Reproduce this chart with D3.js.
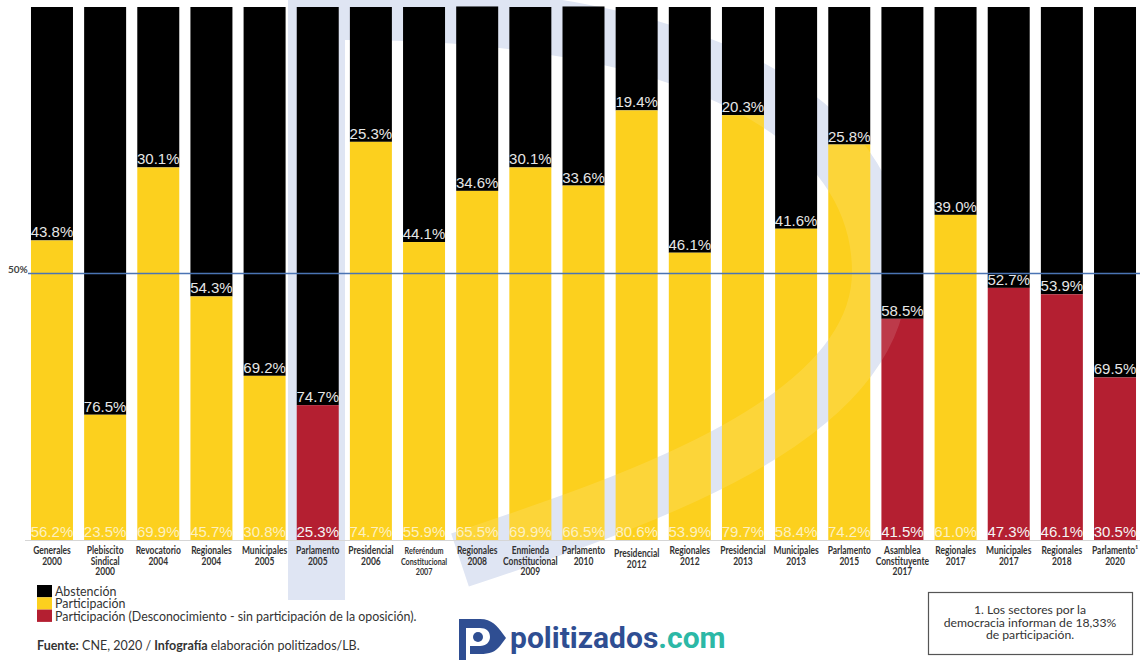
<!DOCTYPE html>
<html><head><meta charset="utf-8">
<script src="https://cdn.jsdelivr.net/npm/d3@7"></script>
<style>body{margin:0;background:#fff}svg{display:block}</style>
</head><body><svg id="c" width="1140" height="660"></svg>
<script>
const categories = [
  ["Generales","2000"],["Plebiscito","Sindical","2000"],["Revocatorio","2004"],["Regionales","2004"],
  ["Municipales","2005"],["Parlamento","2005"],["Presidencial","2006"],["Referéndum","Constitucional","2007"],
  ["Regionales","2008"],["Enmienda","Constitucional","2009"],["Parlamento","2010"],["Presidencial","2012"],
  ["Regionales","2012"],["Presidencial","2013"],["Municipales","2013"],["Parlamento","2015"],
  ["Asamblea","Constituyente","2017"],["Regionales","2017"],["Municipales","2017"],["Regionales","2018"],["Parlamento¹","2020"]
];
const participacion = [56.2,23.5,69.9,45.7,30.8,25.3,74.7,55.9,65.5,69.9,66.5,80.6,53.9,79.7,58.4,74.2,41.5,61.0,47.3,46.1,30.5];
const abstencion   = [43.8,76.5,30.1,54.3,69.2,74.7,25.3,44.1,34.6,30.1,33.6,19.4,46.1,20.3,41.6,25.8,58.5,39.0,52.7,53.9,69.5];
const desconocimiento = [false,false,false,false,false,true,false,false,false,false,false,false,false,false,false,false,true,false,true,true,true];
const referenceLine = 50;
const legendItems = ["Abstención","Participación","Participación (Desconocimiento - sin participación de la oposición)."];
const noteLines = ["1. Los sectores por la","democracia informan de 18,33%","de participación."];

const C = {black:"#000000", yellow:"#FCD01E", red:"#B41F31", blue:"#4a74b4"};
const svg = d3.select("#c");
const ids = categories.map((d,i)=>i);
const x = d3.scaleBand().domain(ids).range([25.4,1141.6]).paddingInner(0.21).paddingOuter(0.105);
const y = d3.scaleLinear().domain([0,100]).range([540,7]);
const curve = "M345 12 C700 12, 880 120, 880 272 C880 420, 640 500, 460 560";

// watermark behind
const wm = svg.append("g");
wm.append("rect").attr("x",288).attr("y",0).attr("width",57).attr("height",600).attr("fill","#dfe5f3");
wm.append("path").attr("d",curve).attr("fill","none").attr("stroke","#dfe5f3").attr("stroke-width",56);

// bars
const defs = svg.append("defs");
const clip = defs.append("clipPath").attr("id","partClip");
const g = svg.append("g");
ids.forEach(i=>{
  const bx = x(i), bw = x.bandwidth();
  const total = participacion[i]+abstencion[i];
  g.append("rect").attr("x",bx).attr("width",bw).attr("y",y(total)).attr("height",y(participacion[i])-y(total)).attr("fill",C.black);
  g.append("rect").attr("x",bx).attr("width",bw).attr("y",y(participacion[i])).attr("height",y(0)-y(participacion[i]))
    .attr("fill",desconocimiento[i]?C.red:C.yellow);
  clip.append("rect").attr("x",bx).attr("width",bw).attr("y",y(participacion[i])).attr("height",y(0)-y(participacion[i]));
});

// watermark overlay on participation bars
svg.append("path").attr("d",curve).attr("clip-path","url(#partClip)")
  .attr("fill","none").attr("stroke","#ffffff").attr("stroke-opacity",0.12).attr("stroke-width",56);

// baseline
svg.append("line").attr("x1",25).attr("x2",1140).attr("y1",y(0)+0.5).attr("y2",y(0)+0.5).attr("stroke","#d6d6d6");

// value labels
const lab = svg.append("g").attr("font-family","'Liberation Sans', Arial, sans-serif").attr("font-size",15).attr("text-anchor","middle");
ids.forEach(i=>{
  const cx = x(i)+x.bandwidth()/2;
  lab.append("text").attr("x",cx).attr("y",y(participacion[i])-3).attr("fill","#e6e6e6").text(abstencion[i].toFixed(1)+"%");
  lab.append("text").attr("x",cx).attr("y",y(0)-3).attr("fill",desconocimiento[i]?"#f4f4f4":"#fdf0c0").text(participacion[i].toFixed(1)+"%");
});

// 50% line
svg.append("line").attr("x1",28).attr("x2",1140).attr("y1",y(referenceLine)).attr("y2",y(referenceLine)).attr("stroke",C.blue).attr("stroke-width",1.3);
svg.append("text").attr("x",8).attr("y",y(referenceLine)-1).attr("font-family","Lato, sans-serif").attr("font-weight",700)
  .attr("font-size",10).attr("fill","#444").text(referenceLine+"%");

// x axis labels
const xl = svg.append("g").attr("font-family","Lato, sans-serif").attr("font-weight",700).attr("fill","#333").attr("text-anchor","middle");
ids.forEach(i=>{
  const cx = x(i)+x.bandwidth()/2;
  const small = categories[i][0]==="Referéndum";
  const off = categories[i][0]==="Presidencial" && categories[i][1]==="2012" ? 3 : 0;
  categories[i].forEach((t,k)=>{
    xl.append("text").attr("transform",`translate(${cx},${554+off+k*10.5}) scale(0.8,1)`)
      .attr("font-size",small?9:10.6).text(t);
  });
});

// legend
const lg = svg.append("g").attr("font-family","Lato, sans-serif").attr("font-size",12.4).attr("fill","#333");
[C.black,C.yellow,C.red].forEach((c,k)=>{
  lg.append("rect").attr("x",37).attr("y",585+k*12.3).attr("width",15).attr("height",12.3).attr("fill",c);
  lg.append("text").attr("x",55).attr("y",596+k*12.3).text(legendItems[k]);
});
const f = svg.append("text").attr("x",37).attr("y",650).attr("font-family","Lato, sans-serif").attr("font-size",12.5).attr("fill","#333");
f.append("tspan").attr("font-weight",700).text("Fuente:");
f.append("tspan").text(" CNE, 2020 / ");
f.append("tspan").attr("font-weight",700).text("Infografía");
f.append("tspan").text(" elaboración politizados/LB.");

// logo
const logo = svg.append("g");
logo.append("path").attr("d","M459 619 L466 619 L466 660 L459 660 Z").attr("fill","#2f4e92");
logo.append("path").attr("d","M466 619 L480 619 C492 619 497 626 503 634 L506 638 L500 646 C495 652 490 654 480 654 L470 654 L470 646 L480 646 C486 646 490 642 490 637 C490 631 486 628 480 628 L466 628 Z").attr("fill","#2f4e92");
logo.append("circle").attr("cx",478).attr("cy",637).attr("r",5).attr("fill","#2f4e92");
const lt = logo.append("text").attr("x",510).attr("y",648).attr("font-family","Roboto, sans-serif").attr("font-weight",700).attr("font-size",30);
lt.append("tspan").attr("fill","#2f4e92").text("politizados");
lt.append("tspan").attr("fill","#2cb8a6").text(".com");

// note box
svg.append("rect").attr("x",928.5).attr("y",592.5).attr("width",204).attr("height",62).attr("fill","#fff").attr("stroke","#555").attr("stroke-width",1.2);
noteLines.forEach((t,k)=>{
  svg.append("text").attr("x",1030).attr("y",614+k*12.6).attr("text-anchor","middle").attr("font-family","Lato, sans-serif")
    .attr("font-size",12.2).attr("fill","#333").text(t);
});
</script></body></html>
